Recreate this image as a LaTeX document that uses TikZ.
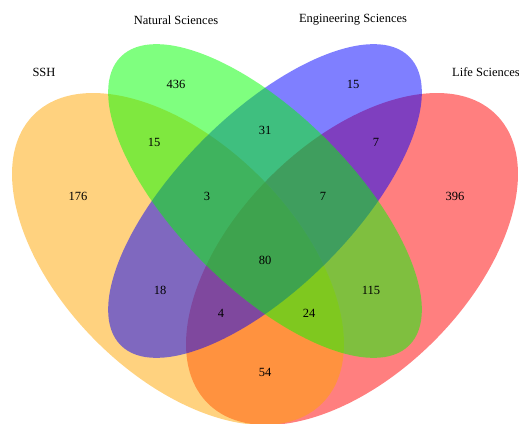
\documentclass[tikz,border=0pt]{standalone}
\usepackage{fontspec}
\setmainfont{Liberation Serif}
\definecolor{lifered}{RGB}{255,0,0}
\definecolor{sshorange}{RGB}{255,165,0}
\definecolor{engblue}{RGB}{0,0,255}
\definecolor{natgreen}{RGB}{0,255,0}
\begin{document}
\begin{tikzpicture}
[every node/.style={inner sep=0pt, font=\fontsize{12.5}{15}\selectfont},
 setfill/.style={fill=#1, fill opacity=0.5}]
\useasboundingbox (0pt, 0pt) rectangle (519pt, -423pt);
\fill [setfill=lifered, rotate around={45:(352pt, -259pt)}] (352pt, -259pt) ellipse [x radius=204pt, y radius=116pt];
\fill [setfill=sshorange, rotate around={-45:(178pt, -259pt)}] (178pt, -259pt) ellipse [x radius=204pt, y radius=116pt];
\fill [setfill=engblue, rotate around={45:(265pt, -201pt)}] (265pt, -201pt) ellipse [x radius=204pt, y radius=87pt];
\fill [setfill=natgreen, rotate around={-45:(265pt, -201pt)}] (265pt, -201pt) ellipse [x radius=204pt, y radius=87pt];
\node (ssh) at (44pt, -72pt) {SSH};
\node (natural) at (176pt, -20pt) {Natural Sciences};
\node (engineering) at (353pt, -20pt) {Engineering Sciences};
\node (life) at (486pt, -72pt) {Life Sciences};
\node (n436) at (176pt, -84pt) {436};
\node (n15e) at (353pt, -84pt) {15};
\node (n15sn) at (154pt, -142pt) {15};
\node (n31) at (265pt, -130pt) {31};
\node (n7el) at (376pt, -142pt) {7};
\node (n176) at (78pt, -196pt) {176};
\node (n3) at (207pt, -196pt) {3};
\node (n7) at (323pt, -196pt) {7};
\node (n396) at (455pt, -196pt) {396};
\node (n80) at (265pt, -260pt) {80};
\node (n18) at (160pt, -290pt) {18};
\node (n115) at (371pt, -290pt) {115};
\node (n4) at (221pt, -313pt) {4};
\node (n24) at (309pt, -313pt) {24};
\node (n54) at (265pt, -372pt) {54};
\end{tikzpicture}
\end{document}
